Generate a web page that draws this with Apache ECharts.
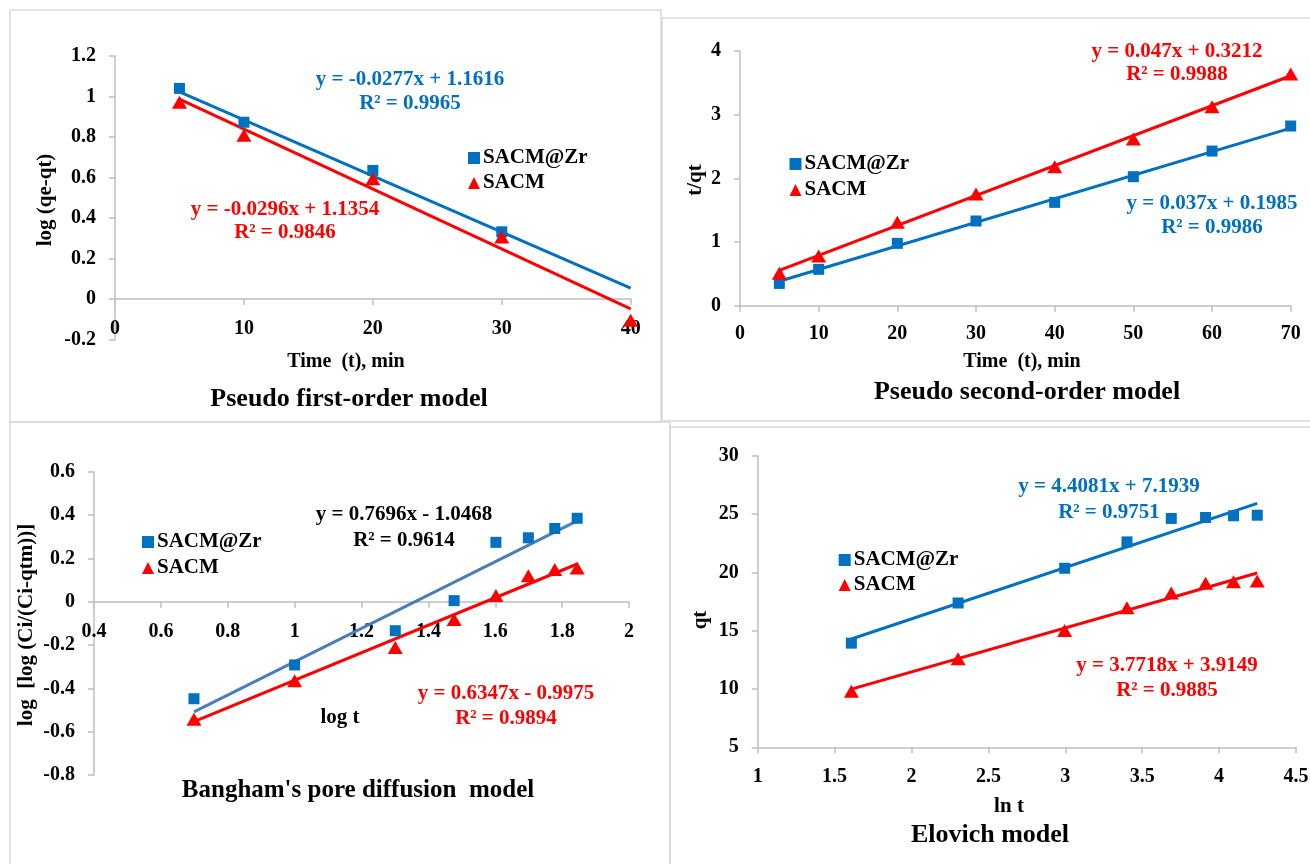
<!DOCTYPE html>
<html>
<head>
<meta charset="utf-8">
<script src="https://cdn.jsdelivr.net/npm/echarts@6/dist/echarts.min.js"></script>
<style>
html,body{margin:0;padding:0;background:#fff;}
#c{width:1310px;height:864px;}
</style>
</head>
<body>
<div id="c"></div>
<script>
// ---------- DATA ----------
const seriesNames = ['SACM@Zr', 'SACM'];

// Panel 1: Pseudo first-order model
const p1X = [5, 10, 20, 30, 40];
const p1Zr = [1.04, 0.873, 0.635, 0.332, null];
const p1Sacm = [0.972, 0.809, 0.594, 0.306, -0.105];
const p1TrendZr = [[5, 1.023], [40, 0.054]];
const p1TrendSacm = [[5, 0.987], [40, -0.049]];
const p1Eq = ['y = -0.0277x + 1.1616', 'R² = 0.9965', 'y = -0.0296x + 1.1354', 'R² = 0.9846'];

// Panel 2: Pseudo second-order model
const p2X = [5, 10, 20, 30, 40, 50, 60, 70];
const p2Zr = [0.35, 0.571, 0.979, 1.33, 1.623, 2.026, 2.429, 2.822];
const p2Sacm = [0.508, 0.78, 1.309, 1.754, 2.183, 2.618, 3.126, 3.639];
const p2TrendZr = [[5, 0.384], [70, 2.789]];
const p2TrendSacm = [[5, 0.556], [70, 3.611]];
const p2Eq = ['y = 0.047x + 0.3212', 'R² = 0.9988', 'y = 0.037x + 0.1985', 'R² = 0.9986'];

// Panel 3: Bangham's pore diffusion model
const p3X = [0.699, 1.0, 1.301, 1.477, 1.602, 1.699, 1.778, 1.845];
const p3Zr = [-0.448, -0.292, -0.134, 0.005, 0.274, 0.295, 0.338, 0.385];
const p3Sacm = [-0.543, -0.365, -0.212, -0.082, 0.028, 0.12, 0.148, 0.155];
const p3TrendZr = [[0.699, -0.509], [1.845, 0.373]];
const p3TrendSacm = [[0.699, -0.554], [1.845, 0.174]];
const p3Eq = ['y = 0.7696x - 1.0468', 'R² = 0.9614', 'y = 0.6347x - 0.9975', 'R² = 0.9894'];

// Panel 4: Elovich model
const p4X = [1.609, 2.303, 2.996, 3.401, 3.689, 3.912, 4.094, 4.248];
const p4Zr = [13.93, 17.37, 20.35, 22.61, 24.62, 24.7, 24.85, 24.9];
const p4Sacm = [9.8, 12.59, 15.02, 16.97, 18.23, 19.06, 19.2, 19.26];
const p4TrendZr = [[1.609, 14.287], [4.248, 25.919]];
const p4TrendSacm = [[1.609, 9.984], [4.248, 19.938]];
const p4Eq = ['y = 4.4081x + 7.1939', 'R² = 0.9751', 'y = 3.7718x + 3.9149', 'R² = 0.9885'];

const titles = ['Pseudo first-order model', 'Pseudo second-order model', "Bangham's pore diffusion  model", 'Elovich model'];
const xNames = ['Time  (t), min', 'Time  (t), min', 'log t', 'ln t'];
const yNames = ['log (qe-qt)', 't/qt', 'log  [log (Ci/(Ci-qtm))]', 'qt'];

// ---------- STYLE ----------
const FONT = '"Liberation Serif", "Times New Roman", serif';
const BLUE = '#0070C0';
const BLUE_LIGHT = '#4A7EBB';
const RED = '#FF0000';
const AXIS_GREY = '#BFBFBF';
const FRAME_GREY = '#D9D9D9';

function pairs(xs, ys) { return xs.map((x, i) => [x, ys[i]]).filter(p => p[1] !== null); }

// offset < 0 lifts the x axis from the grid bottom up to the y = 0 line
function xAxis(gi, min, max, interval, margin, offset) {
  return {
    type: 'value', gridIndex: gi, min, max, interval,
    position: 'bottom', offset: offset || 0,
    axisLine: { onZero: false, lineStyle: { color: AXIS_GREY, width: 1.5 } },
    axisTick: { length: 6, lineStyle: { color: AXIS_GREY, width: 1.5 } },
    axisLabel: { color: '#000', fontFamily: FONT, fontWeight: 'bold', fontSize: 20, margin },
    splitLine: { show: false }
  };
}
function yAxis(gi, min, max, interval) {
  return {
    type: 'value', gridIndex: gi, min, max, interval,
    axisLine: { show: true, onZero: false, lineStyle: { color: AXIS_GREY, width: 1.5 } },
    axisTick: { show: true, length: 6, lineStyle: { color: AXIS_GREY, width: 1.5 } },
    axisLabel: { color: '#000', fontFamily: FONT, fontWeight: 'bold', fontSize: 20, margin: 19 },
    splitLine: { show: false }
  };
}
function scatter(name, gi, data, isZr) {
  return {
    type: 'scatter', name, xAxisIndex: gi, yAxisIndex: gi, data,
    symbol: isZr ? 'rect' : 'triangle',
    symbolSize: isZr ? 11 : [15, 13],
    itemStyle: { color: isZr ? BLUE : RED, opacity: 1 },
    z: 5, emphasis: { disabled: true }
  };
}
function trend(name, gi, data, color) {
  return {
    type: 'line', name, xAxisIndex: gi, yAxisIndex: gi, data,
    showSymbol: false, symbol: 'none',
    lineStyle: { color, width: 3 }, z: 3, emphasis: { disabled: true }, silent: true
  };
}
function legend(left, top, gap) {
  return {
    data: seriesNames, orient: 'vertical', left, top, itemGap: gap,
    itemWidth: 12, itemHeight: 12, padding: 0,
    itemStyle: { opacity: 1 },
    textStyle: { fontFamily: FONT, fontWeight: 'bold', fontSize: 21, color: '#000', lineHeight: 22, padding: [0, 0, 0, -2] },
    selectedMode: false
  };
}
function txt(x, y, text, color, size, rot) {
  return {
    type: 'text', x, y, rotation: rot ? Math.PI / 2 : 0, silent: true,
    style: { text, fill: color, font: 'bold ' + size + 'px ' + FONT, align: 'center', verticalAlign: 'middle' }
  };
}
function frame(x, y, w, h) {
  return { type: 'rect', shape: { x, y, width: w, height: h }, silent: true, z: -1,
    style: { fill: 'none', stroke: FRAME_GREY, lineWidth: 1.5 } };
}

const option = {
  animation: false,
  backgroundColor: '#fff',
  grid: [
    { left: 115, top: 56, width: 515.7, height: 283.5, outerBoundsMode: 'none', containLabel: false },
    { left: 740, top: 51, width: 550.7, height: 254.7, outerBoundsMode: 'none', containLabel: false },
    { left: 94, top: 471.7, width: 535, height: 303.3, outerBoundsMode: 'none', containLabel: false },
    { left: 757.7, top: 455.7, width: 538.3, height: 291.6, outerBoundsMode: 'none', containLabel: false }
  ],
  xAxis: [
    xAxis(0, 0, 40, 10, 20, -40.5),
    xAxis(1, 0, 70, 10, 18, 0),
    xAxis(2, 0.4, 2, 0.2, 20, -173.3),
    xAxis(3, 1, 4.5, 0.5, 20, 0)
  ],
  yAxis: [
    yAxis(0, -0.2, 1.2, 0.2),
    yAxis(1, 0, 4, 1),
    yAxis(2, -0.8, 0.6, 0.2),
    yAxis(3, 5, 30, 5)
  ],
  legend: [
    legend(468, 147, 3),
    legend(789.5, 153, 4),
    legend(142, 531, 4),
    legend(838.7, 549, 3)
  ],
  series: [
    trend('Linear (SACM@Zr) 1', 0, p1TrendZr, BLUE),
    trend('Linear (SACM) 1', 0, p1TrendSacm, RED),
    scatter('SACM@Zr', 0, pairs(p1X, p1Zr), true),
    scatter('SACM', 0, pairs(p1X, p1Sacm), false),

    trend('Linear (SACM@Zr) 2', 1, p2TrendZr, BLUE),
    trend('Linear (SACM) 2', 1, p2TrendSacm, RED),
    scatter('SACM@Zr', 1, pairs(p2X, p2Zr), true),
    scatter('SACM', 1, pairs(p2X, p2Sacm), false),

    trend('Linear (SACM@Zr) 3', 2, p3TrendZr, BLUE_LIGHT),
    trend('Linear (SACM) 3', 2, p3TrendSacm, RED),
    scatter('SACM@Zr', 2, pairs(p3X, p3Zr), true),
    scatter('SACM', 2, pairs(p3X, p3Sacm), false),

    trend('Linear (SACM@Zr) 4', 3, p4TrendZr, BLUE),
    trend('Linear (SACM) 4', 3, p4TrendSacm, RED),
    scatter('SACM@Zr', 3, pairs(p4X, p4Zr), true),
    scatter('SACM', 3, pairs(p4X, p4Sacm), false)
  ],
  graphic: [
    frame(10, 10, 651, 412),
    frame(662, 18, 700, 403),
    frame(10, 422, 660, 500),
    frame(670, 427, 700, 500),

    // Panel 1
    txt(410, 80, p1Eq[0], BLUE, 21), txt(410, 104, p1Eq[1], BLUE, 21),
    txt(285, 210, p1Eq[2], RED, 21), txt(285, 233, p1Eq[3], RED, 21),
    txt(346, 362, xNames[0], '#000', 20), txt(349, 399, titles[0], '#000', 26),
    txt(46, 200, yNames[0], '#000', 21, true),

    // Panel 2
    txt(1177, 52, p2Eq[0], RED, 21), txt(1177, 75, p2Eq[1], RED, 21),
    txt(1212, 204, p2Eq[2], BLUE, 21), txt(1212, 228, p2Eq[3], BLUE, 21),
    txt(1022, 362, xNames[1], '#000', 20), txt(1027, 392, titles[1], '#000', 26),
    txt(696, 180, yNames[1], '#000', 21, true),

    // Panel 3
    txt(404, 515, p3Eq[0], '#000', 21), txt(404, 541, p3Eq[1], '#000', 21),
    txt(506, 694, p3Eq[2], RED, 21), txt(506, 719, p3Eq[3], RED, 21),
    txt(340, 718, xNames[2], '#000', 21), txt(358, 791, titles[2], '#000', 25),
    txt(27, 625, yNames[2], '#000', 21, true),

    // Panel 4
    txt(1109, 487, p4Eq[0], BLUE, 21), txt(1109, 513, p4Eq[1], BLUE, 21),
    txt(1167, 666, p4Eq[2], RED, 21), txt(1167, 691, p4Eq[3], RED, 21),
    txt(1009, 807, xNames[3], '#000', 21), txt(990, 835, titles[3], '#000', 26),
    txt(701, 620, yNames[3], '#000', 21, true)
  ]
};

const chart = echarts.init(document.getElementById('c'), null, { renderer: 'canvas' });
chart.setOption(option);
</script>
</body>
</html>
